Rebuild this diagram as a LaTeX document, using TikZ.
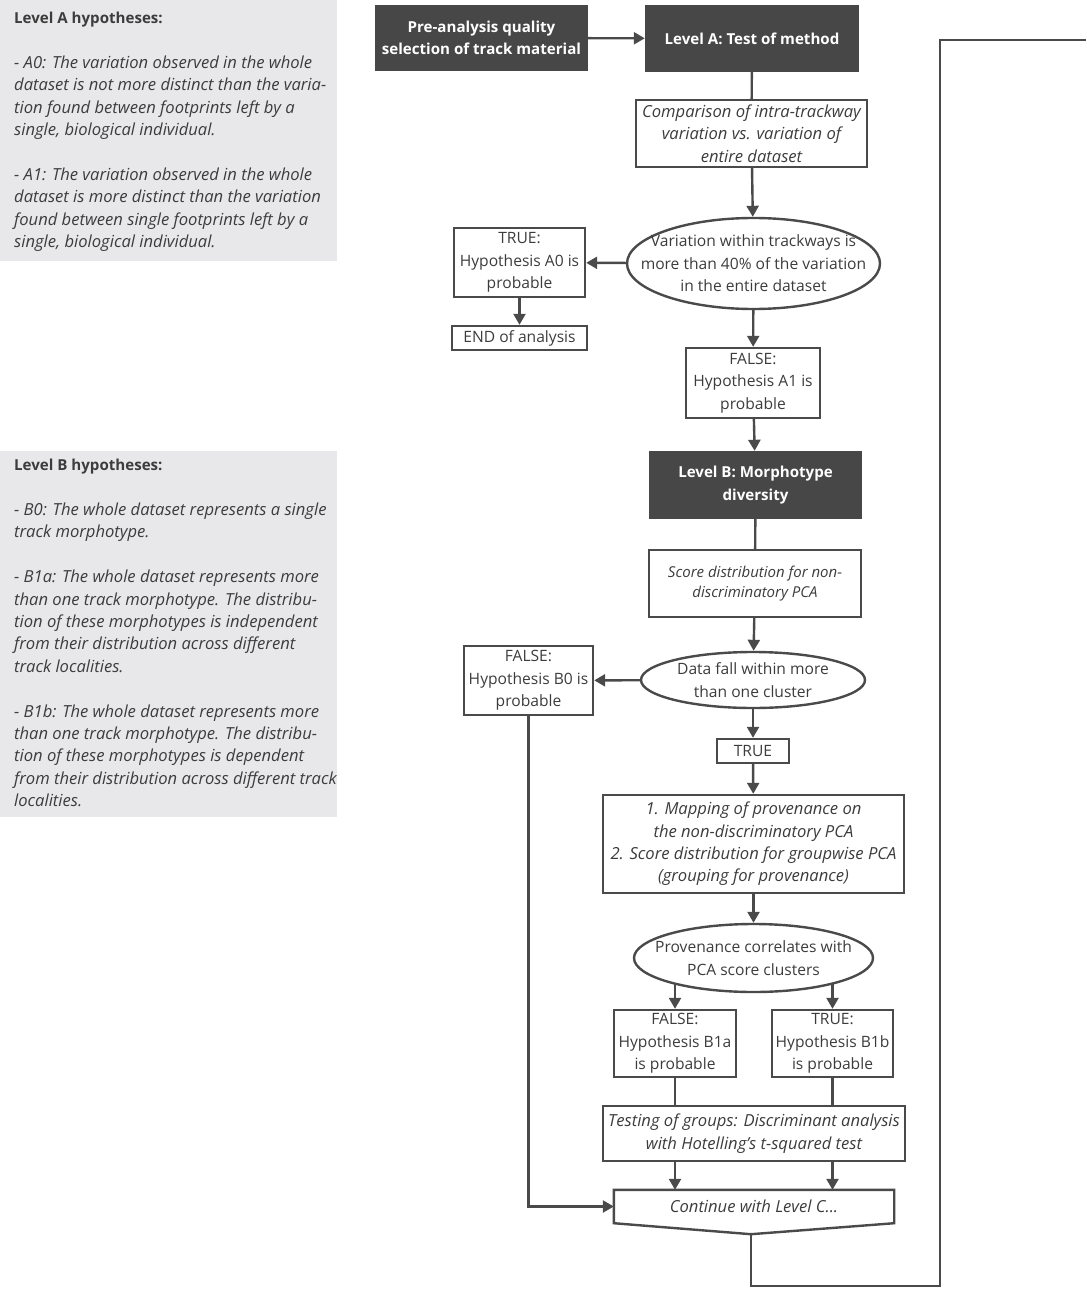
\documentclass[tikz,border=0pt]{standalone}
\usepackage{fontspec}
\setmainfont{Open Sans}
\usetikzlibrary{shapes.geometric,arrows.meta,positioning,calc}

\definecolor{inkgray}{HTML}{4A4A4A}
\definecolor{txtgray}{HTML}{3C3C3C}
\definecolor{headfill}{HTML}{474747}
\definecolor{panelgray}{HTML}{E8E8EA}
\newcommand\boxfont{\fontsize{15.6}{22.4}\selectfont}
\newcommand\itfont{\fontsize{16.6}{22.4}\selectfont\itshape}
\newcommand\smallitfont{\fontsize{15}{20.5}\selectfont\itshape}
\newcommand\headfont{\fontsize{15.1}{22.4}\selectfont\bfseries}

\begin{document}
\begin{tikzpicture}[x=1pt,y=-1pt,
  dims/.style 2 args={minimum width=#1,minimum height=#2},
  box/.style={rectangle,draw=inkgray,line width=2.4pt,align=center,inner sep=1pt,
    font=\boxfont,text=txtgray},
  ibox/.style={box,font=\itfont},
  head/.style={rectangle,fill=headfill,align=center,inner sep=1pt,
    font=\headfont,text=white},
  dec/.style={ellipse,draw=inkgray,line width=2.4pt,inner sep=0pt},
  dtxt/.style={align=center,font=\boxfont,text=txtgray},
  panel/.style={fill=panelgray},
  ptxt/.style={align=left,inner sep=0pt,anchor=north west,font=\itfont,text=txtgray},
  arr/.style={-{Triangle[length=11pt,width=12pt]},line width=2.4pt,draw=inkgray},
  ln/.style={line width=2.4pt,draw=inkgray}
]
\useasboundingbox (0,0) rectangle (1086,1289);

% hypothesis panels
\fill[panel] (0,0) rectangle (337,261);
\node[ptxt] (hypA) at (14,12) {{\upshape\headfont Level A hypotheses:}\\[22.4pt]
- A0: The variation observed in the whole\\
dataset is not more distinct than the varia-\\
tion found between footprints left by a\\
single, biological individual.\\[22.4pt]
- A1: The variation observed in the whole\\
dataset is more distinct than the variation\\
found between single footprints left by a\\
single, biological individual.};
\fill[panel] (0,451) rectangle (337,817);
\node[ptxt] (hypB) at (14,459) {{\upshape\headfont Level B hypotheses:}\\[22.4pt]
- B0: The whole dataset represents a single\\
track morphotype.\\[22.4pt]
- B1a: The whole dataset represents more\\
than one track morphotype. The distribu-\\
tion of these morphotypes is independent\\
from their distribution across different\\
track localities.\\[22.4pt]
- B1b: The whole dataset represents more\\
than one track morphotype. The distribu-\\
tion of these morphotypes is dependent\\
from their distribution across different track\\
localities.};

% level A
\node[head,dims={213}{66}] (pre) at (481.5,38) {Pre-analysis quality\\selection of track material};
\node[head,dims={214}{67}] (lva) at (752,38.5) {Level A: Test of method};
\node[ibox,dims={231}{67}] (cmp) at (751.5,133.5) {Comparison of intra-trackway\\variation vs. variation of\\entire dataset};
\node[dec,dims={253}{91},label={[dtxt]center:Variation within trackways is\\more than 40\% of the variation\\in the entire dataset}] (e1) at (753.5,263.5) {};
\node[box,dims={131}{69}] (truea) at (519.5,262.5) {TRUE:\\Hypothesis A0 is\\probable};
\node[box,dims={135}{24}] (enda) at (519.5,338) {END of analysis};
\node[box,dims={134}{70}] (falsea) at (753,383) {FALSE:\\Hypothesis A1 is\\probable};

% level B
\node[head,dims={213}{68}] (lvb) at (755.5,485) {Level B: Morphotype\\diversity};
\node[box,dims={212}{67},font=\smallitfont] (score) at (755,583.5) {Score distribution for non-\\discriminatory PCA};
\node[dec,dims={224}{56},label={[dtxt]center:Data fall within more\\than one cluster}] (e2) at (753,680) {};
\node[box,dims={129}{69}] (falseb) at (528.5,680.5) {FALSE:\\Hypothesis B0 is\\probable};
\node[box,dims={72}{24}] (trueb) at (753,751) {TRUE};
\node[ibox,dims={301}{98}] (map) at (753.5,844) {1. Mapping of provenance on\\the non-discriminatory PCA\\2. Score distribution for groupwise PCA\\(grouping for provenance)};
\node[dec,dims={239}{68},label={[dtxt]center:Provenance correlates with\\PCA score clusters}] (e3) at (753.5,958) {};
\node[box,dims={122}{67}] (b1a) at (675,1043.5) {FALSE:\\Hypothesis B1a\\is probable};
\node[box,dims={121}{67}] (b1b) at (832.5,1043.5) {TRUE:\\Hypothesis B1b\\is probable};
\node[ibox,dims={302}{55}] (test) at (754,1133.5) {Testing of groups: Discriminant analysis\\with Hotelling's t-squared test};
\node[dims={280}{33},inner sep=0pt,font=\itfont,text=txtgray] (cont) at (754,1206.5) {Continue with Level C...};
\coordinate (tip) at ($(cont.south)+(-3,11)$);
\draw[ln] (cont.north west) -- (cont.north east) -- (cont.south east) -- (tip) -- (cont.south west) -- cycle;

% connectors
\draw[arr] (pre) -- (lva);
\draw[ln] (lva) -- (cmp);
\draw[arr] (cmp) -- (e1);
\draw[arr] (e1) -- (truea);
\draw[arr] (truea) -- (enda);
\draw[arr] (e1) -- (falsea);
\draw[arr] (falsea) -- (lvb);
\draw[ln] (lvb) -- (score);
\draw[arr] (score) -- (e2);
\draw[arr] (e2) -- (falseb);
\draw[arr] (e2) -- (trueb);
\draw[arr] (trueb) -- (map);
\draw[arr] (map) -- (e3);
\draw[arr] (e3.south west -| b1a) -- (b1a);
\draw[arr] (e3.south east -| b1b) -- (b1b);
\draw[ln] (b1a) -- (test.north -| b1a);
\draw[ln] (b1b) -- (test.north -| b1b);
\draw[arr] (test.south -| b1a) -- (cont.north -| b1a);
\draw[arr] (test.south -| b1b) -- (cont.north -| b1b);
\draw[arr] (falseb) |- (cont.west);

% loop back to the top
\coordinate (loopbot) at (940,1286);
\coordinate (looptop) at (940,40);
\coordinate (loopend) at (1086,40);
\draw[ln] (tip) |- (loopbot) -- (looptop) -- (loopend);
\end{tikzpicture}
\end{document}
